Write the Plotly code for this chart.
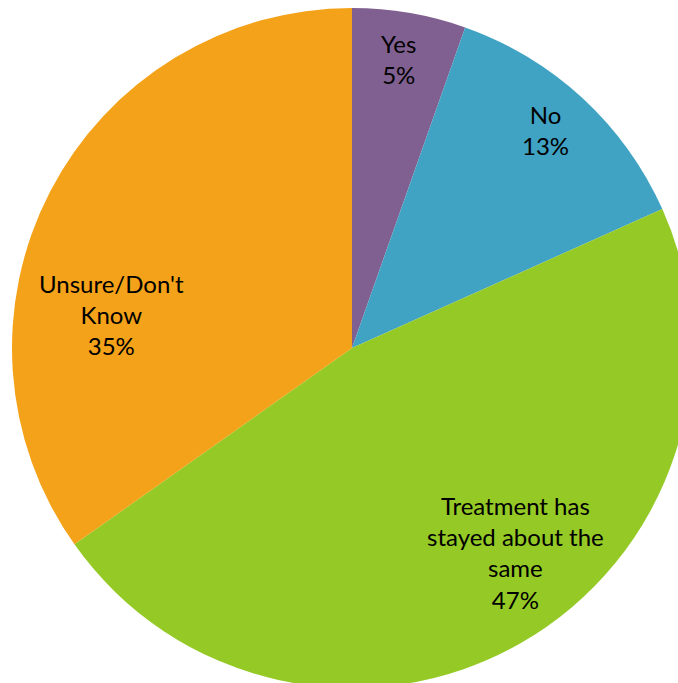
import plotly.graph_objects as go

labels = ["Yes", "No", "Treatment has stayed about the same", "Unsure/Don't Know"]
label_lines = ["Yes", "No", "Treatment has<br>stayed about the<br>same", "Unsure/Don't<br>Know"]
values = [5.4, 12.9, 46.9, 34.8]
colors = ["#806091", "#41A3C3", "#94C926", "#F4A219"]

# label anchor positions (paper coordinates)
label_pos = [(0.569, 0.925), (0.784, 0.821), (0.741, 0.199), (0.147, 0.549)]

fig = go.Figure(go.Pie(
    labels=labels,
    values=values,
    textinfo="none",
    marker=dict(colors=colors, line=dict(width=0)),
    sort=False,
    direction="clockwise",
    rotation=0,
    hoverinfo="label+percent",
    showlegend=False,
))

total = sum(values)
for name, v, (px, py) in zip(label_lines, values, label_pos):
    fig.add_annotation(
        x=px, y=py, xref="paper", yref="paper",
        text=f"{name}<br>{round(100 * v / total)}%",
        showarrow=False, xanchor="center", yanchor="middle", align="center",
        font=dict(family="Lato, Carlito, Calibri, sans-serif", size=24, color="black"),
    )

fig.update_layout(
    width=704, height=696,
    margin=dict(l=12, r=12, t=8, b=8),
    paper_bgcolor="white",
    plot_bgcolor="white",
)

fig.write_html("out.html", post_script="document.body.style.margin='0';document.body.style.overflow='hidden';document.documentElement.style.overflow='hidden';")
